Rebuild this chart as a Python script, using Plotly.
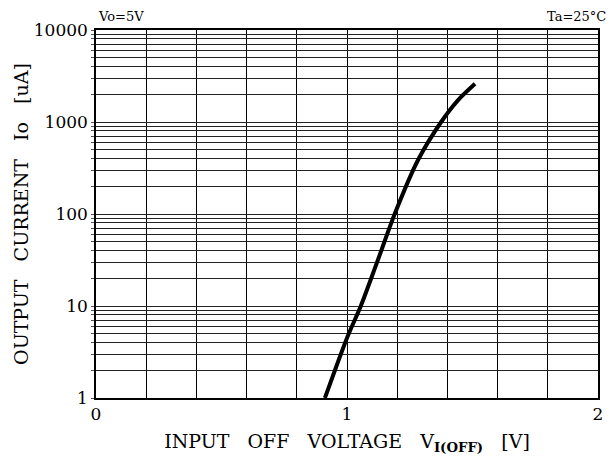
import plotly.graph_objects as go

# Data
v_in = [0.912, 1.0, 1.055, 1.12, 1.19, 1.283, 1.375, 1.44, 1.51]
i_out = [1, 4.5, 10, 30, 100, 386, 1000, 1700, 2600]

x_grid = [0, 0.2, 0.4, 0.6, 0.8, 1.0, 1.2, 1.4, 1.6, 1.8, 2.0]
x_labels = ["0", "", "", "", "", "1", "", "", "", "", "2"]

y_grid = []
y_labels = []
for dec in [1, 10, 100, 1000]:
    for m in range(1, 10):
        y_grid.append(dec * m)
        y_labels.append(str(dec) if m == 1 else "")
y_grid.append(10000)
y_labels.append("10000")

FF = "DejaVu Serif"
sp = "&nbsp;&nbsp;&nbsp;"

fig = go.Figure()
fig.add_trace(go.Scatter(x=v_in, y=i_out, mode="lines",
                         line=dict(color="black", width=4, shape="spline", smoothing=0.8),
                         showlegend=False, hoverinfo="skip"))

fig.update_layout(
    width=615, height=465,
    margin=dict(l=96, r=17, t=30, b=67),
    paper_bgcolor="white", plot_bgcolor="white",
    font=dict(family=FF, color="black", size=17),
    xaxis=dict(range=[0, 2], tickvals=x_grid, ticktext=x_labels,
               showgrid=True, gridcolor="black", gridwidth=1,
               showline=True, linecolor="black", linewidth=1.5, mirror=True,
               ticks="", zeroline=False, tickfont=dict(family=FF, size=17),
               title=dict(text="INPUT" + sp + "OFF" + sp + "VOLTAGE" + sp + "V<sub><b>I(OFF)</b></sub>" + sp + "[V]",
                          font=dict(family=FF, size=19), standoff=12)),
    yaxis=dict(type="log", range=[0, 4], tickvals=y_grid, ticktext=y_labels,
               showgrid=True, gridcolor="#222", gridwidth=1,
               showline=True, linecolor="black", linewidth=1.5, mirror=True,
               ticks="outside", ticklen=3, tickcolor="#555", zeroline=False,
               tickfont=dict(family=FF, size=17),
               title=dict(text="OUTPUT" + sp + "CURRENT" + sp + "Io" + sp + "[uA]",
                          font=dict(family=FF, size=19), standoff=0)),
    annotations=[
        dict(text="Vo=5V", x=0, y=1, xref="paper", yref="paper",
             xanchor="left", yanchor="bottom", yshift=4, showarrow=False,
             font=dict(family=FF, size=13)),
        dict(text="Ta=25°C", x=1, y=1, xref="paper", yref="paper",
             xanchor="right", yanchor="bottom", xshift=10, yshift=4, showarrow=False,
             font=dict(family=FF, size=13)),
    ],
)

fig.write_html("out.html")
